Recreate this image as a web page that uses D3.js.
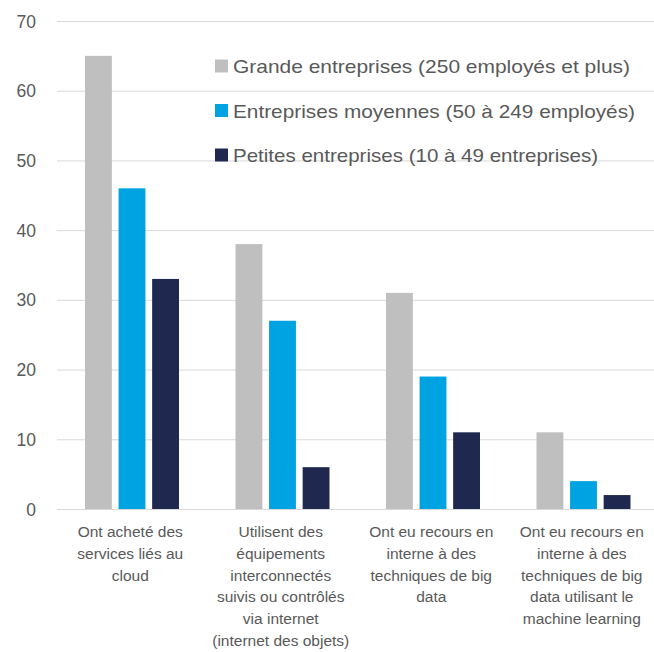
<!DOCTYPE html>
<html><head><meta charset="utf-8">
<script src="https://cdn.jsdelivr.net/npm/d3@7"></script>
<style>body{margin:0;background:#fff}</style>
</head><body>
<svg id="c" width="654" height="652"></svg>
<script>
const categories = [
  ["Ont acheté des", "services liés au", "cloud"],
  ["Utilisent des", "équipements", "interconnectés", "suivis ou contrôlés", "via internet", "(internet des objets)"],
  ["Ont eu recours en", "interne à des", "techniques de big", "data"],
  ["Ont eu recours en", "interne à des", "techniques de big", "data utilisant le", "machine learning"]
];
const seriesNames = [
  "Grande entreprises (250 employés et plus)",
  "Entreprises moyennes (50 à 249 employés)",
  "Petites entreprises (10 à 49 entreprises)"
];
const grande = [65, 38, 31, 11];
const moyennes = [46, 27, 19, 4];
const petites = [33, 6, 11, 2];
const yTicks = [0, 10, 20, 30, 40, 50, 60, 70];
const colors = ["#BFBFBF", "#00A3E2", "#1F2950"];

const series = [grande, moyennes, petites];
const svg = d3.select("#c");
const font = "'Liberation Sans', Arial, sans-serif";
const x0 = d3.scaleBand().domain(d3.range(categories.length)).range([57, 659]).paddingInner(0).paddingOuter(0);
const y = d3.scaleLinear().domain([0, 70]).range([509, 21]);
const x1 = d3.scaleBand().domain(d3.range(3)).range([28, 122]).paddingInner(0.2);

// gridlines
svg.append("g").selectAll("line").data(yTicks).join("line")
  .attr("x1", 57).attr("x2", 654)
  .attr("y1", d => y(d) + 0.5).attr("y2", d => y(d) + 0.5)
  .attr("stroke", "#D9D9D9").attr("stroke-width", 1);

// y labels
svg.append("g").selectAll("text").data(yTicks).join("text")
  .attr("x", 36).attr("y", d => y(d) + 6.5)
  .attr("text-anchor", "end").attr("font-family", font).attr("font-size", 17.5)
  .attr("fill", "#595959").text(d => d);

// bars
const g = svg.append("g");
categories.forEach((c, i) => {
  series.forEach((s, j) => {
    g.append("rect")
      .attr("x", x0(i) + x1(j))
      .attr("width", x1.bandwidth())
      .attr("y", y(s[i]))
      .attr("height", y(0) - y(s[i]))
      .attr("fill", colors[j]);
  });
});

// category labels
categories.forEach((lines, i) => {
  const t = svg.append("text").attr("text-anchor", "middle")
    .attr("font-family", font).attr("font-size", 15.5).attr("fill", "#595959");
  lines.forEach((l, k) => {
    t.append("tspan").attr("x", x0(i) + x0.bandwidth() / 2 - 2)
      .attr("y", 537 + k * 21.8).text(l);
  });
});

// legend
seriesNames.forEach((n, j) => {
  const yy = 66 + j * 44.5;
  svg.append("rect").attr("x", 215).attr("y", yy - 6.5).attr("width", 13).attr("height", 13).attr("fill", colors[j]);
  svg.append("text").attr("x", 233).attr("y", yy + 7)
    .attr("font-family", font).attr("font-size", 19).attr("fill", "#595959")
    .attr("textLength", [397, 402, 365][j]).attr("lengthAdjust", "spacingAndGlyphs")
    .text(n);
});
</script>
</body></html>
